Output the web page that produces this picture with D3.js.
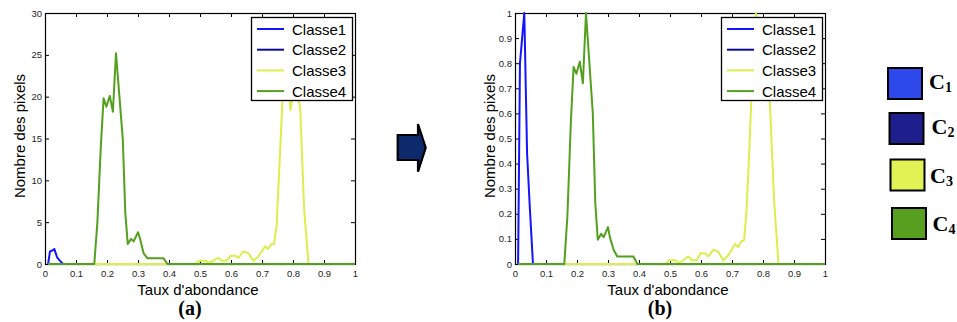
<!DOCTYPE html>
<html><head><meta charset="utf-8">
<script src="https://cdn.jsdelivr.net/npm/d3@7"></script>
<style>body{margin:0;background:#fff}svg{display:block}</style>
</head><body><svg id="c" width="957" height="322"></svg>
<script>
// ---------- data ----------
const classNames = ["Classe1", "Classe2", "Classe3", "Classe4"];
const classColors = ["#1414ff", "#0a0a96", "#dcee4c", "#53a01f"];

const xTicks = [0, 0.1, 0.2, 0.3, 0.4, 0.5, 0.6, 0.7, 0.8, 0.9, 1];
const xTickLabels = ["0", "0.1", "0.2", "0.3", "0.4", "0.5", "0.6", "0.7", "0.8", "0.9", "1"];
const yTicksA = [0, 5, 10, 15, 20, 25, 30];
const yTickLabelsA = ["0", "5", "10", "15", "20", "25", "30"];
const yTicksB = [0, 0.1, 0.2, 0.3, 0.4, 0.5, 0.6, 0.7, 0.8, 0.9, 1];
const yTickLabelsB = ["0", "0.1", "0.2", "0.3", "0.4", "0.5", "0.6", "0.7", "0.8", "0.9", "1"];

// Classe1
const c1X = [0.01, 0.016, 0.023, 0.03, 0.039, 0.048, 0.058, 1];
const c1A = [0, 1.5, 1.6, 1.8, 0.8, 0.4, 0, 0];
const c1B = [0, 0.8, 0.9, 1.0, 0.44, 0.22, 0, 0];
// Classe2
const c2X = [0.01, 1];
const c2A = [0, 0];
const c2B = [0, 0];
// Classe3
const c3X = [0.01, 0.487, 0.497, 0.52, 0.527, 0.543, 0.559, 0.57, 0.586, 0.599, 0.613, 0.624, 0.64, 0.656, 0.672, 0.688, 0.71, 0.72, 0.731, 0.739, 0.747, 0.756, 0.767, 0.777, 0.785, 0.792, 0.80, 0.815, 0.823, 0.836, 0.85, 1];
const c3A = [0, 0, 0.39, 0.39, 0.12, 0.39, 0.72, 0.39, 0.39, 1.0, 1.0, 0.72, 1.5, 1.3, 0.39, 0.9, 2.1, 1.8, 2.4, 2.4, 4.5, 11.5, 20.4, 25, 21, 18.4, 20.5, 20, 18.8, 6.5, 0, 0];
const c3B = [0, 0, 0.015, 0.015, 0.003, 0.015, 0.03, 0.015, 0.015, 0.044, 0.042, 0.03, 0.057, 0.048, 0.014, 0.035, 0.08, 0.068, 0.092, 0.094, 0.216, 0.455, 0.80, 1.0, 0.84, 0.74, 0.82, 0.80, 0.62, 0.25, 0, 0];
// Classe4
const c4X = [0.01, 0.159, 0.169, 0.18, 0.189, 0.198, 0.209, 0.219, 0.229, 0.251, 0.259, 0.267, 0.278, 0.286, 0.3, 0.306, 0.318, 0.33, 0.382, 0.395, 1];
const c4A = [0, 0, 5, 14, 19.8, 18.8, 20.1, 18.2, 25.2, 14.9, 6.1, 2.4, 3.0, 2.7, 3.8, 3.1, 1.3, 0.7, 0.7, 0, 0];
const c4B = [0, 0, 0.19, 0.56, 0.785, 0.758, 0.806, 0.72, 1.0, 0.60, 0.243, 0.097, 0.12, 0.107, 0.147, 0.107, 0.057, 0.03, 0.03, 0, 0];

const swatchColors = ["#2d48eb", "#1e1e8c", "#e1f255", "#57a01f"];
const swatchMain = ["C", "C", "C", "C"];
const swatchSub = ["1", "2", "3", "4"];

// ---------- drawing ----------
const svg = d3.select("#c");
svg.append("rect").attr("width", 957).attr("height", 322).attr("fill", "#fff");

const PW = 310, PH = 251, PT = 13;

function panel(x0, yDomain, yTicks, yTickLabels, xs, ys, caption) {
  const x = d3.scaleLinear().domain([0, 1]).range([x0, x0 + PW]);
  const y = d3.scaleLinear().domain(yDomain).range([PT + PH, PT]);
  const g = svg.append("g");

  const styleAxis = sel => {
    sel.attr("font-family", "Liberation Sans, Arial, sans-serif").attr("font-size", 9.5);
    sel.selectAll("text").attr("fill", "#1e1e1e");
    sel.selectAll("line").attr("stroke", "#000");
    sel.select(".domain").remove();
  };

  g.append("g").attr("transform", `translate(0,${PT + PH})`)
    .call(d3.axisBottom(x).tickValues(xTicks).tickFormat((d, i) => xTickLabels[i])
      .tickSizeInner(-4).tickSizeOuter(0).tickPadding(6)).call(styleAxis);
  g.append("g").attr("transform", `translate(0,${PT})`)
    .call(d3.axisTop(x).tickValues(xTicks).tickFormat("").tickSizeInner(-4).tickSizeOuter(0)).call(styleAxis);
  g.append("g").attr("transform", `translate(${x0},0)`)
    .call(d3.axisLeft(y).tickValues(yTicks).tickFormat((d, i) => yTickLabels[i])
      .tickSizeInner(-4).tickSizeOuter(0).tickPadding(3)).call(styleAxis);
  g.append("g").attr("transform", `translate(${x0 + PW},0)`)
    .call(d3.axisRight(y).tickValues(yTicks).tickFormat("").tickSizeInner(-4).tickSizeOuter(0)).call(styleAxis);

  g.append("rect").attr("x", x0 + 0.5).attr("y", PT + 0.5).attr("width", PW).attr("height", PH)
    .attr("fill", "none").attr("stroke", "#000").attr("stroke-width", 1.2);

  const line = d3.line().x(d => x(d[0])).y(d => y(d[1]));
  classNames.forEach((c, i) => {
    g.append("path").datum(d3.zip(xs[i], ys[i])).attr("d", line)
      .attr("fill", "none").attr("stroke", classColors[i]).attr("stroke-width", 2)
      .attr("stroke-linejoin", "round");
  });

  // legend
  const lx = x0 + PW - 104, ly = 17;
  g.append("rect").attr("x", lx + 0.5).attr("y", ly + 0.5).attr("width", 101).attr("height", 83)
    .attr("fill", "#fff").attr("stroke", "#000").attr("stroke-width", 1.3);
  classNames.forEach((c, i) => {
    const yy = ly + 12 + i * 20.7;
    g.append("line").attr("x1", lx + 6).attr("x2", lx + 33).attr("y1", yy).attr("y2", yy)
      .attr("stroke", classColors[i]).attr("stroke-width", 2);
    g.append("text").attr("x", lx + 41).attr("y", yy + 5.5).text(c)
      .attr("font-family", "Liberation Sans, Arial, sans-serif").attr("font-size", 15).attr("fill", "#000");
  });

  // axis labels
  g.append("text").attr("x", x0 + PW / 2 - 2).attr("y", 295).attr("text-anchor", "middle")
    .attr("font-family", "Liberation Sans, Arial, sans-serif").attr("font-size", 15).text("Taux d'abondance");
  g.append("text").attr("transform", `translate(${x0 - 20},136) rotate(-90)`).attr("text-anchor", "middle")
    .attr("font-family", "Liberation Sans, Arial, sans-serif").attr("font-size", 15).text("Nombre des pixels");
  g.append("text").attr("x", x0 + PW / 2 - 10).attr("y", 315).attr("text-anchor", "middle")
    .attr("font-family", "Liberation Serif, Times New Roman, serif").attr("font-weight", "bold")
    .attr("font-size", 20).text(caption);
}

panel(45, [0, 30], yTicksA, yTickLabelsA, [c1X, c2X, c3X, c4X], [c1A, c2A, c3A, c4A], "(a)");
panel(515, [0, 1], yTicksB, yTickLabelsB, [c1X, c2X, c3X, c4X], [c1B, c2B, c3B, c4B], "(b)");

// arrow
svg.append("path")
  .attr("d", "M397.7,135 L418,135 L418,124 L425.7,147.7 L418,171.7 L418,160 L397.7,160 Z")
  .attr("fill", "#0c2a6c").attr("stroke", "#000").attr("stroke-width", 2.2).attr("stroke-linejoin", "miter");

// colour key
const sqX = [888, 889.5, 890.5, 892];
const sqY = [68, 113, 159.5, 208];
const lblX = [929, 931.5, 930, 932.5];
const lblY = [89, 134, 183, 231];
swatchColors.forEach((c, i) => {
  svg.append("rect").attr("x", sqX[i]).attr("y", sqY[i]).attr("width", 34).attr("height", 31)
    .attr("fill", c).attr("stroke", "#000").attr("stroke-width", 2);
  const t = svg.append("text").attr("x", lblX[i]).attr("y", lblY[i])
    .attr("font-family", "Liberation Serif, Times New Roman, serif").attr("font-weight", "bold")
    .attr("font-size", 22).attr("fill", "#000");
  t.append("tspan").text(swatchMain[i]);
  t.append("tspan").attr("font-size", 14).attr("dy", 3).text(swatchSub[i]);
});
</script></body></html>
